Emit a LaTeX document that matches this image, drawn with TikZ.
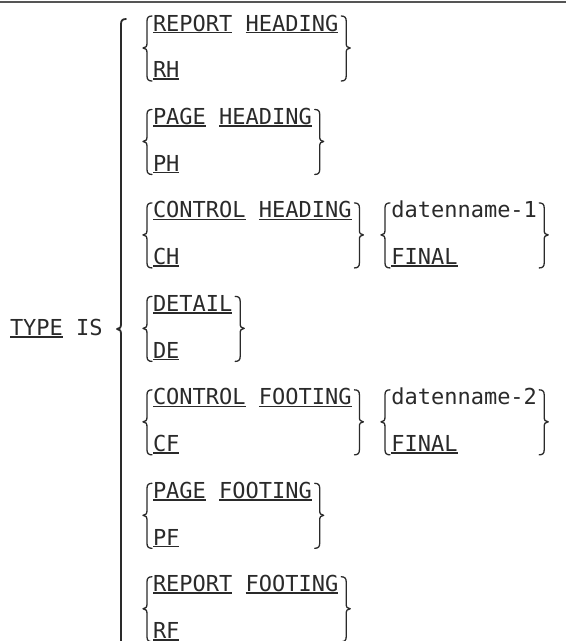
\documentclass[tikz,border=0pt]{standalone}
\usepackage{fontspec}
\setmonofont{DejaVu Sans Mono}
\definecolor{ink}{HTML}{2A2A2A}
\definecolor{rulegrey}{HTML}{555555}
\newsavebox{\ulbox}
\newcommand{\ulw}[1]{\sbox{\ulbox}{#1}\rlap{\rule[-2.3pt]{\wd\ulbox}{1.6pt}}\usebox{\ulbox}}
% left brace: x, top, tip, bottom
\newcommand{\LBrc}[5][brc]{\draw[#1] ({#2+5},#3) .. controls ({#2+1.5},#3) and (#2,{#3+1.5}) .. (#2,{#3+5}) -- (#2,{#4-5}) .. controls (#2,{#4-1.5}) and ({#2-1},{#4-0.3}) .. ({#2-4},#4) .. controls ({#2-1},{#4+0.3}) and (#2,{#4+1.5}) .. (#2,{#4+5}) -- (#2,{#5-5}) .. controls (#2,{#5-1.5}) and ({#2+1.5},#5) .. ({#2+5},#5);}
% right brace: x, top, tip, bottom
\newcommand{\RBrc}[5][brc]{\draw[#1] ({#2-5},#3) .. controls ({#2-1.5},#3) and (#2,{#3+1.5}) .. (#2,{#3+5}) -- (#2,{#4-5}) .. controls (#2,{#4-1.5}) and ({#2+1},{#4-0.3}) .. ({#2+4},#4) .. controls ({#2+1},{#4+0.3}) and (#2,{#4+1.5}) .. (#2,{#4+5}) -- (#2,{#5-5}) .. controls (#2,{#5-1.5}) and ({#2-1.5},#5) .. ({#2-5},#5);}
\tikzset{
  txt/.style={anchor=base west, inner sep=0pt, outer sep=0pt, text=ink,
    font=\ttfamily\fontsize{22}{26}\selectfont},
  brc/.style={draw=ink, line width=1.3pt, line cap=round, line join=round},
  bigbrc/.style={brc, line width=1.8pt},
  toprule/.style={draw=rulegrey, line width=2pt}
}
\begin{document}
\begin{tikzpicture}[x=1pt,y=-1pt]
\useasboundingbox (0,0) rectangle (566,641);
\begin{scope}
\clip (0,0) rectangle (566,641);
\draw[toprule] (0,1.5) -- (566,1.5);
% TYPE IS
\node[txt] (typeis) at (10,335.5) {\ulw{TYPE} IS};
% big brace
\LBrc[bigbrc]{121}{19}{329}{720}
% rows
\node[txt] (r0) at (153,31) {\ulw{REPORT} \ulw{HEADING}};
\node[txt] (r1) at (153,77.73) {\ulw{RH}};
\node[txt] (r2) at (153,124.46) {\ulw{PAGE} \ulw{HEADING}};
\node[txt] (r3) at (153,171.19) {\ulw{PH}};
\node[txt] (r4) at (153,217.92) {\ulw{CONTROL} \ulw{HEADING}};
\node[txt] (r5) at (153,264.65) {\ulw{CH}};
\node[txt] (r6) at (153,311.38) {\ulw{DETAIL}};
\node[txt] (r7) at (153,358.11) {\ulw{DE}};
\node[txt] (r8) at (153,404.84) {\ulw{CONTROL} \ulw{FOOTING}};
\node[txt] (r9) at (153,451.57) {\ulw{CF}};
\node[txt] (r10) at (153,498.3) {\ulw{PAGE} \ulw{FOOTING}};
\node[txt] (r11) at (153,545.03) {\ulw{PF}};
\node[txt] (r12) at (153,591.76) {\ulw{REPORT} \ulw{FOOTING}};
\node[txt] (r13) at (153,638.49) {\ulw{RF}};
% second column
\node[txt] (d1) at (391.3,217.92) {datenname-1};
\node[txt] (f1) at (391.3,264.65) {\ulw{FINAL}};
\node[txt] (d2) at (391.3,404.84) {datenname-2};
\node[txt] (f2) at (391.3,451.57) {\ulw{FINAL}};
% group braces
\LBrc{147}{16}{48}{81}
\RBrc{346.2}{16}{48}{81}
\LBrc{147}{109.46}{141.46}{174.46}
\RBrc{319.7}{109.46}{141.46}{174.46}
\LBrc{147}{202.92}{234.92}{267.92}
\RBrc{359.4}{202.92}{234.92}{267.92}
\LBrc{385}{202.92}{234.92}{267.92}
\RBrc{544.2}{202.92}{234.92}{267.92}
\LBrc{147}{296.38}{328.38}{361.38}
\RBrc{240.2}{296.38}{328.38}{361.38}
\LBrc{147}{389.84}{421.84}{454.84}
\RBrc{359.4}{389.84}{421.84}{454.84}
\LBrc{385}{389.84}{421.84}{454.84}
\RBrc{544.2}{389.84}{421.84}{454.84}
\LBrc{147}{483.3}{515.3}{548.3}
\RBrc{319.7}{483.3}{515.3}{548.3}
\LBrc{147}{576.76}{608.76}{641.76}
\RBrc{346.2}{576.76}{608.76}{641.76}
\end{scope}
\end{tikzpicture}
\end{document}
